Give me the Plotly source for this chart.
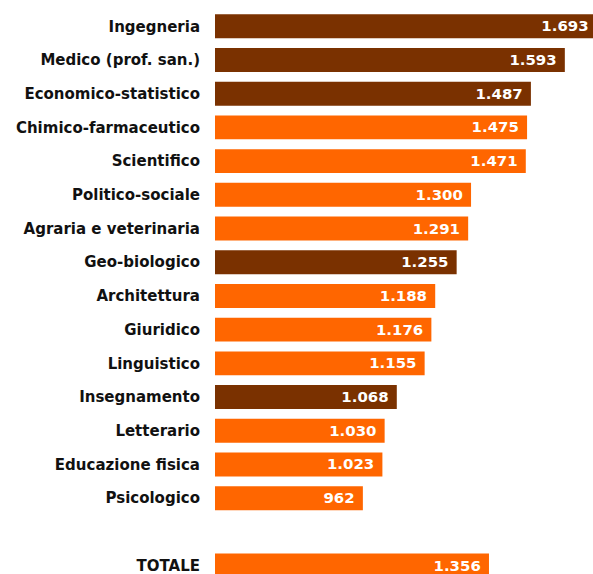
import plotly.graph_objects as go

categories = ["Ingegneria", "Medico (prof. san.)", "Economico-statistico",
              "Chimico-farmaceutico", "Scientifico", "Politico-sociale",
              "Agraria e veterinaria", "Geo-biologico", "Architettura",
              "Giuridico", "Linguistico", "Insegnamento", "Letterario",
              "Educazione fisica", "Psicologico", " ", "TOTALE"]
values = [1693, 1593, 1487, 1475, 1471, 1300, 1291, 1255, 1188,
          1176, 1155, 1068, 1030, 1023, 962, None, 1356]
highlight = [True, True, True, False, False, False, False, True, False,
             False, False, True, False, False, False, False, False]

DARK = "#7A3100"
ORANGE = "#FF6600"
colors = [DARK if h else ORANGE for h in highlight]

fig = go.Figure(go.Bar(
    x=values, y=categories, orientation="h",
    marker=dict(color=colors, line=dict(width=0)),
    width=0.71,
    texttemplate="%{x:,.0f}\u00a0",
    textposition="inside",
    insidetextanchor="end",
    textangle=0,
    insidetextfont=dict(family="DejaVu Sans", size=15, color="white", weight="bold"),
    cliponaxis=True,
    hoverinfo="skip",
))

fig.update_layout(
    width=593, height=574,
    margin=dict(l=215, r=0, t=0, b=0, autoexpand=False),
    plot_bgcolor="white", paper_bgcolor="white",
    separators=",.",
    showlegend=False,
    font=dict(family="DejaVu Sans", color="#111111"),
    xaxis=dict(range=[500, 1681], visible=False, showgrid=False, zeroline=False,
               automargin=False),
    yaxis=dict(type="category", categoryorder="array", categoryarray=categories,
               range=[16.25, -0.78], showgrid=False, zeroline=False, showline=False,
               ticks="", ticklabelstandoff=14, automargin=False,
               tickfont=dict(family="DejaVu Sans", size=15, color="#111111", weight="bold")),
)

fig.write_html("out.html", config={"displayModeBar": False},
               post_script="document.body.style.margin='0';document.body.style.overflow='hidden';")
